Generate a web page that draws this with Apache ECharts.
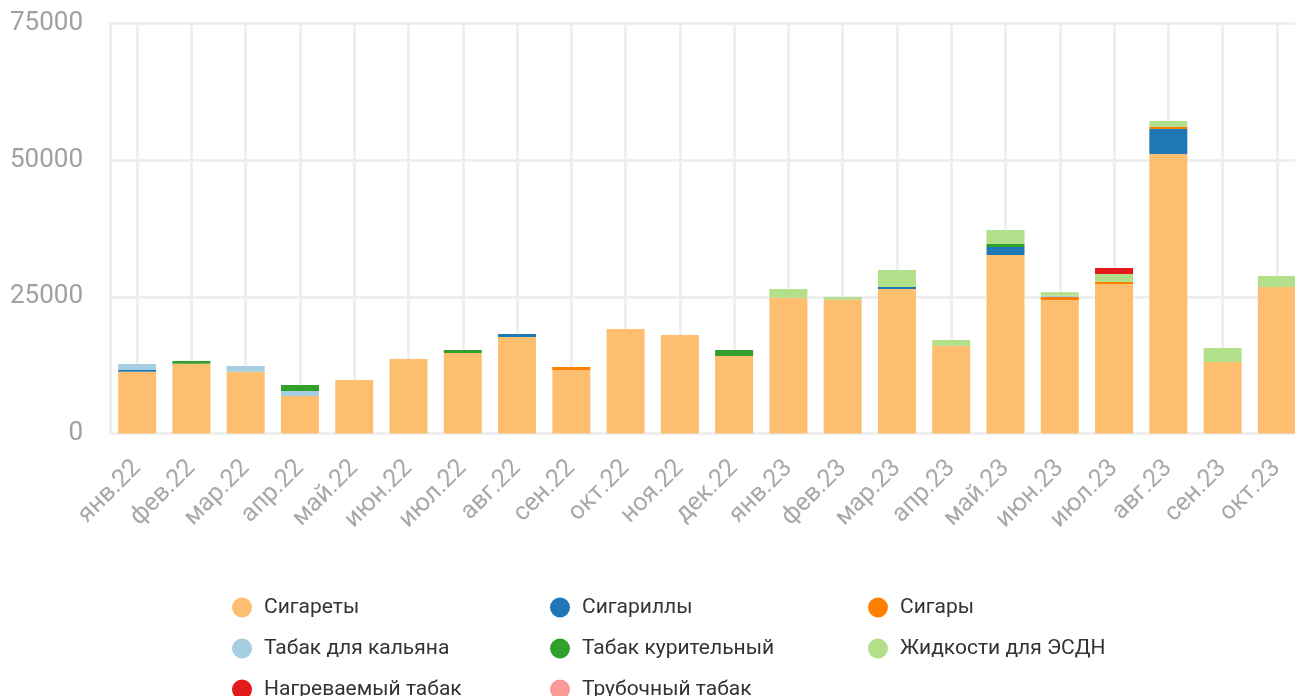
<!DOCTYPE html>
<html>
<head>
<meta charset="utf-8">
<script src="https://cdn.jsdelivr.net/npm/echarts@6/dist/echarts.min.js"></script>
<style>
html,body{margin:0;padding:0;background:#fff;overflow:hidden;width:1295px;height:696px;}
#chart{width:1304px;height:696px;}
</style>
</head>
<body>
<div id="chart"></div>
<script>
const categories = ["янв.22","фев.22","мар.22","апр.22","май.22","июн.22","июл.22","авг.22","сен.22","окт.22","ноя.22","дек.22","янв.23","фев.23","мар.23","апр.23","май.23","июн.23","июл.23","авг.23","сен.23","окт.23"];

const seriesNames = ["Сигареты","Сигариллы","Сигары","Табак для кальяна","Табак курительный","Жидкости для ЭСДН","Нагреваемый табак","Трубочный табак"];

const cigarettes   = [11300,12770,11300,6860,9790,13630,14720,17650,11610,19110,18020,14170,24840,24470,26430,16060,32650,24420,27340,51120,13080,26800];
const cigarillos   = [300,0,0,0,0,0,0,550,0,0,0,0,0,0,370,0,1460,0,0,4570,0,0];
const cigars       = [0,0,0,0,0,0,0,0,550,0,0,0,0,0,0,0,0,550,370,370,0,0];
const hookah       = [1100,0,1040,910,0,0,0,0,0,0,0,0,0,0,0,0,0,250,0,0,0,0];
const smoking      = [0,500,0,1100,0,0,550,0,0,0,0,1100,0,0,0,0,550,0,0,0,0,0];
const liquids      = [0,0,0,0,0,0,0,0,0,0,0,0,1590,490,3110,1040,2560,600,1460,1100,2560,2010];
const heated       = [0,0,0,0,0,0,0,0,0,0,0,0,0,0,0,0,0,0,1100,0,0,0];
const pipe         = [0,0,0,0,0,0,0,0,0,0,0,0,0,0,0,0,0,0,0,0,0,0];

const seriesValues = [cigarettes,cigarillos,cigars,hookah,smoking,liquids,heated,pipe];
const colors = ["#fdbf6f","#1f78b4","#ff7f00","#a6cee3","#33a02c","#b2df8a","#e31a1c","#fb9a99"];

const yMin = 0, yMax = 75000, yInterval = 25000;

const chart = echarts.init(document.getElementById('chart'), null, {renderer:'canvas'});

const gridLine = {color:'#efefef', width:3};
const legendCommon = {
  type:'plain', orient:'vertical', top:597, height:120, padding:0, itemWidth:20, itemHeight:20, itemGap:20,
  icon:'circle',
  textStyle:{fontFamily:'Roboto', fontSize:21, color:'#333', lineHeight:20, padding:[0,0,0,7]}
};

chart.setOption({
  animation:false,
  color: colors,
  textStyle:{fontFamily:'Roboto'},
  grid:{left:110, top:23.5, right:0, height:410, containLabel:false},
  legend:[
    Object.assign({left:232, data:[seriesNames[0],seriesNames[3],seriesNames[6]]}, legendCommon),
    Object.assign({left:550, data:[seriesNames[1],seriesNames[4],seriesNames[7]]}, legendCommon),
    Object.assign({left:868, data:[seriesNames[2],seriesNames[5]]}, legendCommon)
  ],
  xAxis:{
    type:'category', data:categories, boundaryGap:true,
    axisLine:{show:true, lineStyle:gridLine},
    axisTick:{show:false},
    splitLine:{show:true, alignWithLabel:true, lineStyle:gridLine},
    axisLabel:{rotate:45, interval:0, fontSize:25, color:'#a8a8a8', margin:31, fontFamily:'Roboto'}
  },
  yAxis:{
    type:'value', min:yMin, max:yMax, interval:yInterval,
    axisLine:{show:true, lineStyle:gridLine},
    axisTick:{show:false},
    splitLine:{show:true, lineStyle:gridLine},
    axisLabel:{fontSize:26, color:'#a0a0a0', margin:27, fontFamily:'Roboto', padding:[8,0,0,0], formatter:(v)=>String(v)}
  },
  series: seriesNames.map((n,i)=>({
    name:n, type:'bar', stack:'total', data:seriesValues[i], barWidth:'70%',
    itemStyle:{color:colors[i]}
  }))
});
</script>
</body>
</html>
